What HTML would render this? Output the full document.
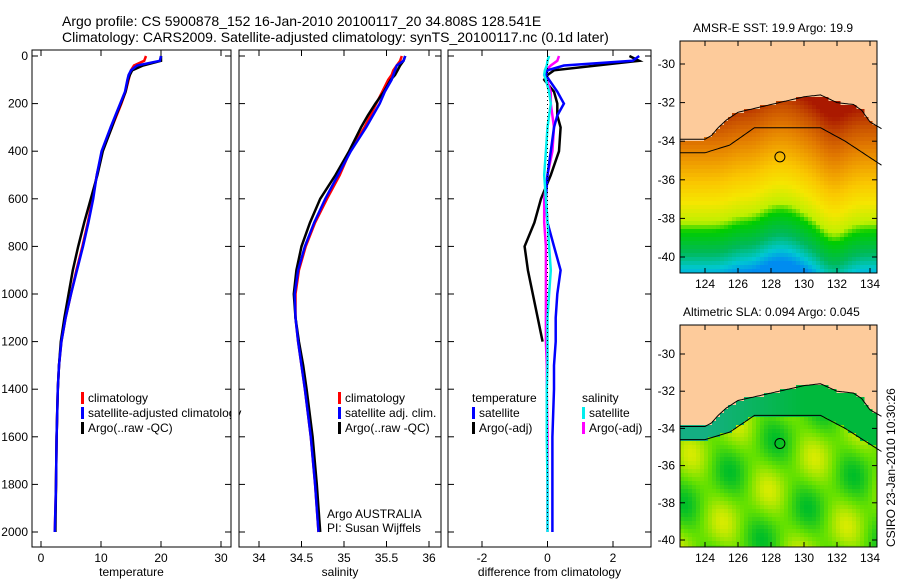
<!DOCTYPE html>
<html><head><meta charset="utf-8">
<style>
body{margin:0;background:#fff;}
svg{display:block;font-family:"Liberation Sans",sans-serif;}
text{font-size:12px;fill:#000;}
</style></head>
<body>
<svg id="c" width="900" height="580" viewBox="0 0 900 580">
<text x="62" y="26" style="font-size:14px">Argo profile: CS 5900878_152 16-Jan-2010 20100117_20 34.808S 128.541E</text>
<text x="62" y="42" style="font-size:14px">Climatology: CARS2009. Satellite-adjusted climatology: synTS_20100117.nc (0.1d later)</text>
<text x="693" y="32">AMSR-E SST: 19.9 Argo: 19.9</text>
<text x="683" y="316">Altimetric SLA: 0.094 Argo: 0.045</text>
<text transform="translate(895,547) rotate(-90)">CSIRO 23-Jan-2010 10:30:26</text>
<g id="g"></g>
</svg>
<script>
// depth grid (dbar)
const depths=[0,20,40,60,80,100,150,200,250,300,400,500,600,700,800,900,1000,1100,1200,1300,1400,1600,1800,2000];
// temperature (°C)
const tempClim=[17.5,17.2,15.5,15.0,14.8,14.6,14.1,13.4,12.6,11.8,10.2,9.3,8.6,7.8,6.9,5.9,5.0,4.1,3.4,3.0,2.8,2.6,2.5,2.3];
const tempSat=[20.0,19.8,16.0,15.0,14.6,14.4,14.0,13.2,12.4,11.6,10.1,9.3,8.7,7.9,7.0,6.0,5.0,4.1,3.4,3.0,2.8,2.6,2.5,2.3];
const tempArgo=[20.0,20.0,17.0,15.2,14.8,14.5,14.1,13.3,12.5,11.8,10.3,9.4,8.3,7.2,6.2,5.3,4.6,3.9,3.3,3.0,2.8,2.6,2.5,2.4];
// salinity (psu)
const salClim=[35.68,35.66,35.62,35.58,35.56,35.52,35.45,35.38,35.31,35.24,35.07,34.95,34.80,34.66,34.55,34.47,34.43,34.43,34.46,34.50,34.54,34.61,34.66,34.70];
const salSat=[35.72,35.70,35.62,35.60,35.58,35.56,35.48,35.42,35.34,35.26,35.08,34.93,34.78,34.65,34.54,34.46,34.42,34.43,34.46,34.50,34.54,34.61,34.66,34.70];
const salArgo=[35.72,35.70,35.66,35.63,35.60,35.55,35.47,35.37,35.28,35.20,35.06,34.90,34.72,34.60,34.50,34.44,34.41,34.43,34.47,34.52,34.56,34.63,34.68,34.72];
// differences from climatology
const dTempSat=[2.8,2.6,0.5,0.0,-0.05,0.05,0.3,0.5,0.3,0.2,0.1,0.0,-0.05,0.0,0.2,0.4,0.3,0.25,0.25,0.2,0.2,0.15,0.15,0.15];
const dTempArgo=[2.5,2.8,1.5,0.2,0.0,-0.1,0.2,0.3,0.3,0.4,0.35,0.1,-0.2,-0.4,-0.7,-0.6,-0.45,-0.3,-0.15,null,null,null,null,null];
const dSalSat=[0.05,0.0,-0.02,-0.08,-0.1,-0.05,0.05,0.1,0.05,0.0,-0.05,-0.1,-0.05,0.0,0.05,0.1,0.05,0.0,0.0,0.0,-0.02,-0.02,0.0,0.0];
const dSalArgo=[0.35,0.3,0.1,-0.05,-0.1,-0.02,0.1,0.1,0.15,0.2,0.15,0.0,-0.1,-0.1,-0.05,-0.05,-0.05,-0.05,-0.05,-0.02,-0.02,0.0,0.0,0.0];
const tTicks=[0,10,20,30], sTicks=[34,34.5,35,35.5,36], dTicks=[-2,0,2], zTicks=[0,200,400,600,800,1000,1200,1400,1600,1800,2000];
const lonTicks=[124,126,128,130,132,134], latTicks=[-30,-32,-34,-36,-38,-40];
// coastline and 200 m isobath
const coastLon=[122.4,124,124.4,124.8,125.3,126,127,128,129,130,131,132,133,133.5,134,134.8];
const coastLat=[-33.9,-33.9,-33.7,-33.3,-32.9,-32.5,-32.3,-32.1,-31.9,-31.7,-31.6,-32.0,-32.1,-32.4,-33.0,-33.4];
const isoLon=[122.4,124,125.5,127,131,132.5,134.8];
const isoLat=[-34.6,-34.6,-34.2,-33.3,-33.3,-34.0,-35.3];

const NS='http://www.w3.org/2000/svg', G=document.getElementById('g');
function mk(t,a,p){const e=document.createElementNS(NS,t);for(const k in a)e.setAttribute(k,a[k]);(p||G).appendChild(e);return e;}
const yD=d=>56+d*0.238;
function panel(name,x0,x1,xs,ticks,lbl,xlabel,series){
  const g=mk('g',{});
  
  
  const fr=mk('rect',{x:x0,y:50,width:x1-x0,height:497,fill:'#fff',stroke:'#000','stroke-width':1},g);
  
  
  ticks.forEach(t=>{const x=xs(t);
    mk('line',{x1:x,x2:x,y1:547,y2:541,stroke:'#000'},g);mk('line',{x1:x,x2:x,y1:50,y2:56,stroke:'#000'},g);
    const tx=mk('text',{x:x,y:562,'text-anchor':'middle'},g);tx.textContent=String(t);
    
    });
  zTicks.forEach(z=>{const y=yD(z);mk('line',{x1:x0,x2:x0+6,y1:y,y2:y,stroke:'#000'},g);mk('line',{x1:x1,x2:x1-6,y1:y,y2:y,stroke:'#000'},g);
    if(lbl){const tx=mk('text',{x:x0-4,y:y+4,'text-anchor':'end'},g);tx.textContent=String(z);
      
      }});
  const xl=mk('text',{x:(x0+x1)/2,y:576,'text-anchor':'middle'},g);xl.textContent=xlabel;
  
  
  series.forEach(s=>{let pts=[];s.v.forEach((v,i)=>{if(v!==null)pts.push(xs(v).toFixed(1)+','+yD(depths[i]).toFixed(1));});
    const pl=mk('polyline',{points:pts.join(' '),fill:'none',stroke:s.c,'stroke-width':s.w||2.5},g);
    
    });
  return g;
}
const xT=v=>41+v*6, xS=v=>259+(v-34)*85, xDf=v=>547.5+v*32.75;
panel('temperature',32,231,xT,tTicks,true,'temperature',[{v:tempClim,c:'#f00',n:'temp-climatology-line'},{v:tempArgo,c:'#000',n:'temp-argo-line'},{v:tempSat,c:'#00f',n:'temp-satellite-line'}]);
panel('salinity',239,441,xS,sTicks,false,'salinity',[{v:salClim,c:'#f00',n:'sal-climatology-line'},{v:salArgo,c:'#000',n:'sal-argo-line'},{v:salSat,c:'#00f',n:'sal-satellite-line'}]);
const dp=panel('difference',448,651,xDf,dTicks,false,'difference from climatology',[{v:dTempArgo,c:'#000',n:'diff-temp-argo-line'},{v:dSalArgo,c:'#f0f',n:'diff-sal-argo-line'},{v:dTempSat,c:'#00f',n:'diff-temp-satellite-line'},{v:dSalSat,c:'#0ee',n:'diff-sal-satellite-line'}]);
mk('line',{x1:547.5,x2:547.5,y1:56,y2:532,stroke:'#000','stroke-dasharray':'1,3'},dp);
function legend(x,y,items,name){items.forEach((it,i)=>{const yy=y+i*15;
  if(it.c){const r=mk('rect',{x:x,y:yy-10,width:3,height:12,fill:it.c});}
  const t=mk('text',{x:x+(it.c?7:0),y:yy});t.textContent=it.t;});}
legend(81,402,[{c:'#f00',t:'climatology'},{c:'#00f',t:'satellite-adjusted climatology'},{c:'#000',t:'Argo(..raw -QC)'}],'temp-legend');
mk('rect',{x:231.5,y:380,width:7,height:60,fill:'#fff'});
mk('line',{x1:231,x2:231,y1:50,y2:547,stroke:'#000'});
legend(338,402,[{c:'#f00',t:'climatology'},{c:'#00f',t:'satellite adj. clim.'},{c:'#000',t:'Argo(..raw -QC)'}],'sal-legend');
legend(472,402,[{t:'temperature'},{c:'#00f',t:'satellite'},{c:'#000',t:'Argo(-adj)'}],'diff-temp-legend');
legend(582,402,[{t:'salinity'},{c:'#0ee',t:'satellite'},{c:'#f0f',t:'Argo(-adj)'}],'diff-sal-legend');
let t1=mk('text',{x:327,y:518});t1.textContent='Argo AUSTRALIA';
let t2=mk('text',{x:327,y:532});t2.textContent='PI: Susan Wijffels';

function lerpArr(xs,ys,x){if(x<=xs[0])return ys[0];for(let i=1;i<xs.length;i++)if(x<=xs[i])return ys[i-1]+(ys[i]-ys[i-1])*(x-xs[i-1])/(xs[i]-xs[i-1]);return ys[ys.length-1];}
const coast=l=>lerpArr(coastLon,coastLat,l);
const iso=l=>lerpArr(isoLon,isoLat,l);
function interp(st,d){if(d<=st[0][0])return c2s(st[0][1]);for(let i=1;i<st.length;i++){if(d<=st[i][0]){const f=(d-st[i-1][0])/(st[i][0]-st[i-1][0]);return c2s(st[i-1][1].map((c,j)=>c+(st[i][1][j]-c)*f));}}return c2s(st[st.length-1][1]);}
function c2s(c){return 'rgb('+c.map(Math.round).join(',')+')';}
function sstCol(lat,lon){
  const f=-38.2+1.0*Math.exp(-Math.pow((lon-128.6)/1.8,2))-0.6*Math.exp(-Math.pow((lon-131.8)/1.0,2))+0.2*Math.exp(-Math.pow((lon-126)/0.8,2));
  const d=lat-f;
  return interp([[-3,[0,140,240]],[-2.4,[0,200,210]],[-1.6,[0,185,90]],[-0.5,[0,205,0]],[0,[190,240,0]],[1,[245,230,0]],[2,[250,200,0]],[3,[240,160,0]],[4,[225,120,0]],[5,[200,80,0]],[6,[170,25,0]]],d);}
function slaCol(lat,lon){
  if(lat>iso(lon)){const t=Math.max(0,Math.min(1,(lon-124)/6));return c2s([20+(0-20)*t,175+(185-175)*t,130+(60-130)*t]);}
  const v=Math.sin(lon*1.7+lat*0.9)+Math.cos(lon*0.8-lat*1.3);
  return interp([[-2,[0,190,40]],[0,[100,225,0]],[2,[215,235,0]]],v);}
function map(name,y0,y1,yl30,yl40,colf){
  const x0=680,x1=877;const lx=l=>705+(l-124)*16.5, ly=l=>yl30+(-30-l)*(yl40-yl30)/10;
  const g=mk('g',{});
  mk('rect',{x:x0,y:y0,width:x1-x0,height:y1-y0,fill:'#fdcb9b'},g);
  const cs=4;for(let px=x0;px<x1;px+=cs)for(let py=y0;py<y1;py+=cs){const lon=124+(px+2-705)/16.5, lat=-30-(py+2-yl30)/((yl40-yl30)/10);
    if(lat<coast(lon))mk('rect',{x:px,y:py,width:Math.min(cs+0.5,x1-px),height:Math.min(cs+0.5,y1-py),fill:colf(lat,lon)},g);}
  let pts=[];for(let l=122.5;l<=134.7;l+=0.1)pts.push(lx(l).toFixed(1)+','+ly(coast(l)).toFixed(1));
  mk('polyline',{points:pts.join(' '),fill:'none',stroke:'#000','stroke-width':1},g);
  let p2=[];for(let l=122.5;l<=134.7;l+=0.1)p2.push(lx(l).toFixed(1)+','+ly(iso(l)).toFixed(1));
  mk('polyline',{points:p2.join(' '),fill:'none',stroke:'#000','stroke-width':1},g);
  const m=mk('circle',{cx:lx(128.54),cy:ly(-34.81),r:5,fill:'none',stroke:'#000'},g);
  mk('rect',{x:x0,y:y0,width:x1-x0,height:y1-y0,fill:'none',stroke:'#000'},g);
  lonTicks.forEach(l=>{const x=lx(l);mk('line',{x1:x,x2:x,y1:y1,y2:y1-5,stroke:'#000'},g);mk('line',{x1:x,x2:x,y1:y0,y2:y0+5,stroke:'#000'},g);
    const t=mk('text',{x:x,y:y1+15,'text-anchor':'middle'},g);t.textContent=l;});
  latTicks.forEach(l=>{const y=ly(l);mk('line',{x1:x0,x2:x0+5,y1:y,y2:y,stroke:'#000'},g);mk('line',{x1:x1,x2:x1-5,y1:y,y2:y,stroke:'#000'},g);
    const t=mk('text',{x:x0-5,y:y+4,'text-anchor':'end'},g);t.textContent=l;});
}
map('sst-map',41,273,64,257,sstCol);
map('sla-map',325,547,354,540,slaCol);
</script>
</body></html>
